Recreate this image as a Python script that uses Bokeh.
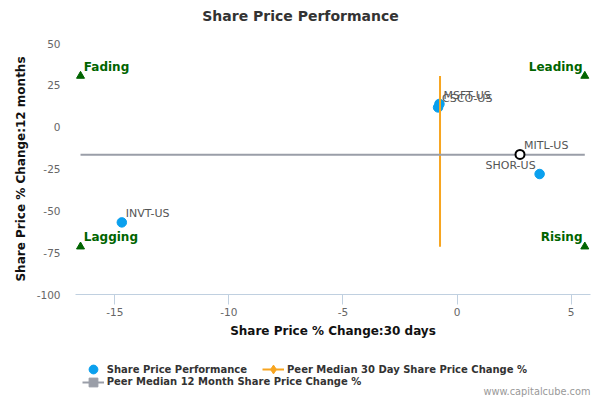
import numpy as np
from bokeh.plotting import figure
from bokeh.layouts import column
from bokeh.models import Range1d, FixedTicker, Legend, LegendItem, Label, ColumnDataSource
from bokeh.core.properties import value
from bokeh.embed import file_html
from bokeh.resources import INLINE

# ---------------- data ----------------
tickers = ["INVT-US", "MSFT-US", "CSCO-US", "SHOR-US"]
chg_30d = [-14.69, -0.77, -0.83, 3.62]
chg_12m = [-56.9, 13.9, 11.8, -28.0]
label_align = ["left", "left", "left", "right"]

focus_ticker = ["MITL-US"]
focus_30d = [2.76]
focus_12m = [-16.3]

median_30d = -0.745
median_12m = -16.5

quadrant_names = ["Fading", "Leading", "Lagging", "Rising"]
quadrant_x = [-16.5, 5.6, -16.5, 5.6]
quadrant_y = [30.6, 30.6, -71.4, -71.4]
quadrant_align = ["left", "right", "left", "right"]

x_ticks = [-15, -10, -5, 0, 5]
y_ticks = [-100, -75, -50, -25, 0, 25, 50]
x_lim = (-16.72, 5.85)
y_lim = (-100, 50)

# ---------------- layout ----------------
W = 600
TOP_H, MAIN_H, BOT_H = 30, 315, 55
FL, FT, FW, FH = 75, 13, 515, 251
FR = W - FL - FW
FONT = "DejaVu Sans"

BLUE = "#0aa0ee"
ORANGE = "#f7a520"
GRAY = "#9a9ea8"
GREEN = "#006400"


def strip(h):
    # a strip whose frame has the same horizontal extent as the main chart's frame;
    # its x range is expressed in page pixels
    f = figure(width=W, height=h, output_backend="svg", toolbar_location=None,
               x_range=Range1d(FL, FL + FW), y_range=Range1d(h, 0),
               x_axis_location=None, y_axis_location=None,
               min_border_left=FL, min_border_right=FR,
               min_border_top=0, min_border_bottom=0)
    f.outline_line_color = None
    f.xgrid.grid_line_color = None
    f.ygrid.grid_line_color = None
    f.background_fill_color = "white"
    f.border_fill_color = "white"
    return f


# ---------- title strip ----------
top = strip(TOP_H)
top.add_layout(Label(x=300, y=15, text="Share Price Performance",
                     text_align="center", text_baseline="middle", text_font=FONT,
                     text_font_size="14px", text_font_style="bold", text_color="#333333"))

# ---------- main chart ----------
p = figure(width=W, height=MAIN_H, output_backend="svg", toolbar_location=None,
           x_range=Range1d(*x_lim), y_range=Range1d(*y_lim),
           min_border_left=FL, min_border_top=FT,
           min_border_right=FR, min_border_bottom=MAIN_H - FT - FH)
p.outline_line_color = None
p.xgrid.grid_line_color = None
p.ygrid.grid_line_color = None
p.background_fill_color = "white"
p.border_fill_color = "white"

xa = p.xaxis[0]
xa.ticker = FixedTicker(ticks=x_ticks)
xa.major_label_overrides = {t: str(t) for t in x_ticks}
xa.axis_line_color = "#C0D0E0"
xa.major_tick_line_color = "#C0D0E0"
xa.major_tick_out = 10
xa.major_tick_in = 0
xa.minor_tick_line_color = None
xa.major_label_standoff = 3
xa.major_label_text_font = FONT
xa.major_label_text_font_size = "10.5px"
xa.major_label_text_color = "#666666"
xa.axis_label = "Share Price % Change:30 days"
xa.axis_label_text_font = FONT
xa.axis_label_text_font_size = "12px"
xa.axis_label_text_font_style = "bold"
xa.axis_label_text_color = "#111111"
xa.axis_label_standoff = 5

ya = p.yaxis[0]
ya.ticker = FixedTicker(ticks=y_ticks)
ya.major_label_overrides = {t: str(t) for t in y_ticks}
ya.axis_line_color = None
ya.major_tick_line_color = None
ya.major_tick_out = 0
ya.major_tick_in = 0
ya.minor_tick_line_color = None
ya.major_label_standoff = 15
ya.major_label_text_font = FONT
ya.major_label_text_font_size = "10.5px"
ya.major_label_text_color = "#666666"
ya.axis_label = "Share Price % Change:12 months"
ya.axis_label_text_font = FONT
ya.axis_label_text_font_size = "12px"
ya.axis_label_text_font_style = "bold"
ya.axis_label_text_color = "#111111"
ya.axis_label_standoff = 6

src = ColumnDataSource(dict(x=chg_30d, y=chg_12m, t=tickers, a=label_align,
                            xo=[4 if a == "left" else -4 for a in label_align]))
p.scatter("x", "y", source=src, marker="circle", size=9.5,
          fill_color=BLUE, line_color=BLUE)
p.text("x", "y", text="t", source=src, text_align="a", x_offset="xo", y_offset=-8.5,
       text_baseline="middle", text_font=value(FONT), text_font_size="11px",
       text_color="#555555")

p.line([median_30d, median_30d], [min(quadrant_y), max(quadrant_y)],
       line_color=ORANGE, line_width=2)
p.line([min(quadrant_x), max(quadrant_x)], [median_12m, median_12m],
       line_color=GRAY, line_width=2)

fsrc = ColumnDataSource(dict(x=focus_30d, y=focus_12m, t=focus_ticker))
p.scatter("x", "y", source=fsrc, marker="circle", size=9, fill_color="white",
          line_color="black", line_width=2)
p.text("x", "y", text="t", source=fsrc, text_align="left", x_offset=4, y_offset=-8.5,
       text_baseline="middle", text_font=value(FONT), text_font_size="11px",
       text_color="#555555")

qsrc = ColumnDataSource(dict(x=quadrant_x, y=quadrant_y, t=quadrant_names, a=quadrant_align,
                             xo=[3.3 if a == "left" else -2.3 for a in quadrant_align]))
p.scatter("x", "y", source=qsrc, marker="triangle", size=8, fill_color=GREEN, line_color=GREEN)
p.text("x", "y", text="t", source=qsrc, text_align="a", x_offset="xo", y_offset=-9.3,
       text_baseline="middle", text_font=value(FONT), text_font_size="12px",
       text_font_style="bold", text_color=GREEN)

# ---------- legend strip ----------
bot = strip(BOT_H)
# legend proxies: one undefined point each, so they draw nothing in the strip itself
proxy = ColumnDataSource(dict(x=np.array([np.nan]), y=np.array([np.nan])))
l_pts = bot.scatter("x", "y", source=proxy, marker="circle", size=9.5,
                    fill_color=BLUE, line_color=BLUE)
l_vline = bot.line("x", "y", source=proxy, line_color=ORANGE, line_width=2)
l_diam = bot.scatter("x", "y", source=proxy, marker="diamond", size=11,
                     fill_color=ORANGE, line_color=ORANGE)
l_hline = bot.line("x", "y", source=proxy, line_color=GRAY, line_width=2)
l_sq = bot.scatter("x", "y", source=proxy, marker="square", size=8,
                   fill_color=GRAY, line_color=GRAY)

GLYPH = 22
common = dict(orientation="horizontal", padding=0, margin=0, spacing=15,
              glyph_width=GLYPH, glyph_height=GLYPH, label_height=GLYPH, label_standoff=3,
              label_text_font=FONT, label_text_font_size="10px",
              label_text_font_style="bold", label_text_color="#333333",
              background_fill_alpha=0, border_line_alpha=0)
leg1 = Legend(items=[LegendItem(label="Share Price Performance", renderers=[l_pts]),
                     LegendItem(label="Peer Median 30 Day Share Price Change %",
                                renderers=[l_vline, l_diam])],
              location=(92.7 - GLYPH / 2 - FL, BOT_H - 24 - GLYPH / 2), **common)
leg2 = Legend(items=[LegendItem(label="Peer Median 12 Month Share Price Change %",
                                renderers=[l_hline, l_sq])],
              location=(92.7 - GLYPH / 2 - FL, BOT_H - 36.7 - GLYPH / 2), **common)
bot.add_layout(leg1, "center")
bot.add_layout(leg2, "center")
bot.add_layout(Label(x=590, y=45.5, text="www.capitalcube.com",
                     text_align="right", text_baseline="middle", text_font=FONT,
                     text_font_size="9.8px", text_color="#999999"))

layout = column(top, p, bot, spacing=0)
open("out.html", "w").write(file_html(layout, INLINE))
